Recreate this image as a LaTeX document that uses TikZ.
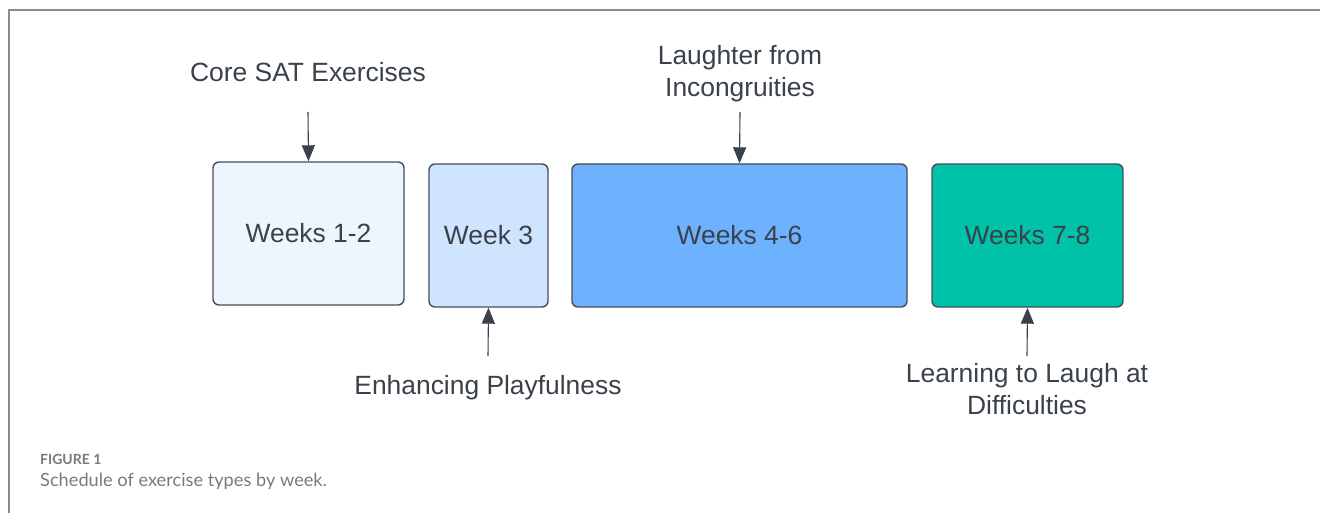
\documentclass[tikz,border=0pt]{standalone}
\usepackage{fontspec}
\setmainfont{Liberation Sans}
\newfontfamily\capfont{Lato}
\usetikzlibrary{arrows.meta}
\definecolor{txt}{HTML}{3A414A}
\definecolor{edge}{HTML}{474E57}
\definecolor{frame}{HTML}{8A8A8A}
\definecolor{capgray}{HTML}{7A7A7A}
\definecolor{fillA}{HTML}{EDF5FF}
\definecolor{fillB}{HTML}{CFE4FF}
\definecolor{fillC}{HTML}{6DB1FF}
\definecolor{fillD}{HTML}{00C2A8}
\tikzset{
  weekbox/.style={draw=edge, line width=1.4pt, rounded corners=6pt, text=txt,
    font=\fontsize{26.4}{32}\selectfont, inner sep=0pt},
  lbl/.style={text=txt, font=\fontsize{26.4}{32}\selectfont, align=center, inner sep=0pt},
  arr/.style={draw=txt, line width=1.1pt, -{Triangle[width=13pt,length=16pt]}},
}
\begin{document}
\begin{tikzpicture}[x=1pt,y=-1pt]
\useasboundingbox (0,0) rectangle (1320,513);
\draw[frame, line width=1.5pt] (9,513) -- (9,10) -- (1320,10);

\node[weekbox, fill=fillA, minimum width=191pt, minimum height=143pt] (b1) at (308.5,233.5) {Weeks 1-2};
\node[weekbox, fill=fillB, minimum width=119pt, minimum height=143pt] (b2) at (488.5,235.5) {Week 3};
\node[weekbox, fill=fillC, minimum width=335pt, minimum height=143pt] (b3) at (739.5,235.5) {Weeks 4-6};
\node[weekbox, fill=fillD, minimum width=191pt, minimum height=143pt] (b4) at (1027.5,235.5) {Weeks 7-8};

\node[lbl] (l1) at (308,72) {Core SAT Exercises};
\node[lbl] (l2) at (488,388) {Enhancing Playfulness};
\node[lbl] (l3) at (740,74) {Laughter from\\Incongruities};
\node[lbl] (l4) at (1027,389) {Learning to Laugh at\\Difficulties};

\coordinate (a1) at (308,112);
\coordinate (a2) at (488,356);
\coordinate (a3) at (740,112);
\coordinate (a4) at (1027,356);
\draw[arr] (a1) -- (b1.north);
\draw[arr] (a2) -- (b2.south);
\draw[arr] (a3) -- (b3.north);
\draw[arr] (a4) -- (b4.south);

\node[anchor=west, inner sep=0pt, text=capgray, font=\capfont\bfseries\fontsize{14}{16}\selectfont] (fig) at (40,459) {FIGURE 1};
\node[anchor=west, inner sep=0pt, text=capgray, font=\capfont\fontsize{18.2}{20}\selectfont] (cap) at (40,481) {Schedule of exercise types by week.};
\end{tikzpicture}
\end{document}
